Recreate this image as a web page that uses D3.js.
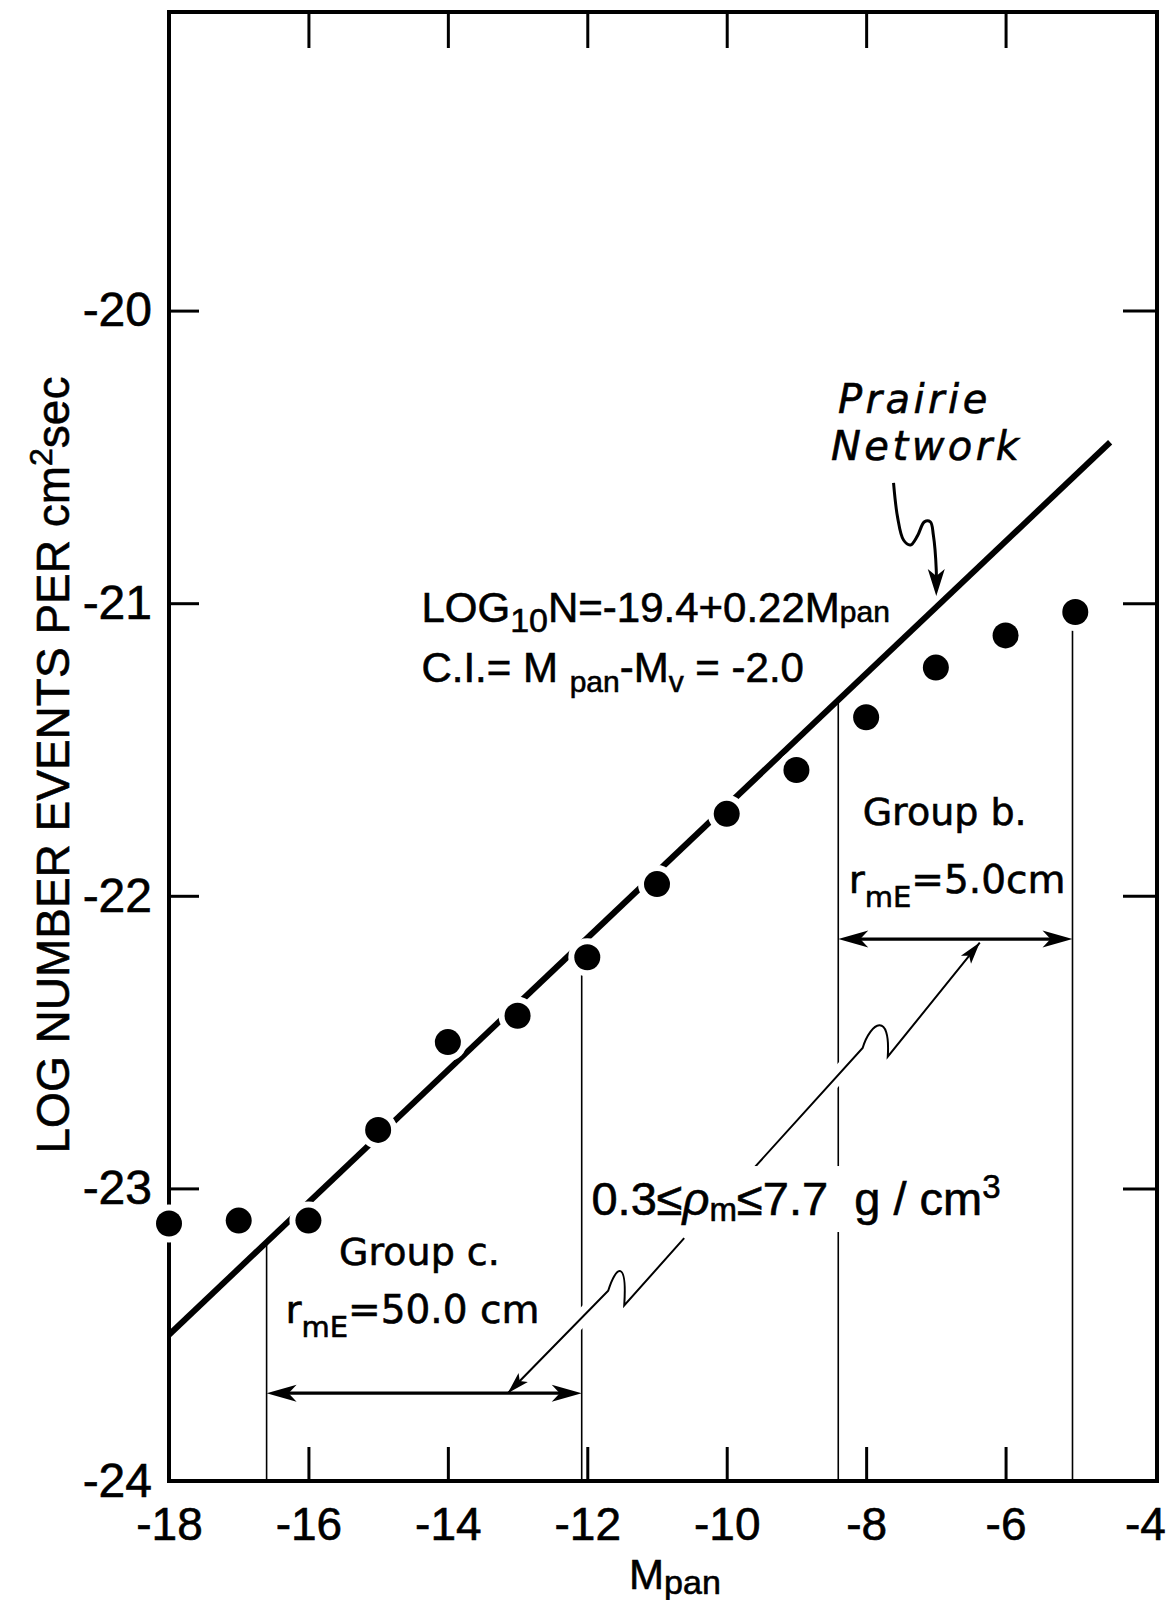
<!DOCTYPE html>
<html>
<head>
<meta charset="utf-8">
<script src="https://cdn.jsdelivr.net/npm/d3@7/dist/d3.min.js"></script>
<style>
  body { margin: 0; background: #fff; }
  text { font-family: "Liberation Sans", Arial, sans-serif; fill: #000; stroke: #000; stroke-width: 0.6px; }
</style>
</head>
<body>
<div id="chart"></div>
<script>
// values
var magnitudes = [-18, -17, -16, -15, -14, -13, -12, -11, -10, -9, -8, -7, -6, -5];
var logRates = [-23.12, -23.11, -23.11, -22.80, -22.50, -22.41, -22.21, -21.96, -21.72, -21.57, -21.39, -21.22, -21.11, -21.03];

// prairie network line (end points)
var fitX = [-18, -4.50];
var fitY = [-23.50, -20.45];

var xTicks = [-18, -16, -14, -12, -10, -8, -6, -4];
var yTicks = [-24, -23, -22, -21, -20];

// group limits and the height of their double arrows
var groupNames = ["c", "b"];
var groupFrom = [-16.6, -8.4];
var groupTo = [-12.08, -5.04];
var groupArrowAt = [-23.70, -22.148];

// leader lines for the density label: start, bend, dip, end
var leaderB = [[-9.76, -22.97], [-8.05, -22.52], [-7.69, -22.55], [-6.37, -22.16]];
var leaderC = [[-13.14, -23.70], [-11.70, -23.35], [-11.47, -23.40], [-10.61, -23.17]];
// wavy pointer under "Prairie Network"
var prairieLeader = [[-7.607, -20.589], [-7.550, -20.705], [-7.464, -20.784], [-7.364, -20.801],
  [-7.264, -20.770], [-7.165, -20.722], [-7.079, -20.722], [-7.036, -20.767], [-6.994, -20.887], [-6.994, -20.975]];

var W = 1173, H = 1600;
var frame = { left: 169, right: 1157, top: 12, bottom: 1481 };

var x = d3.scaleLinear().domain([-18, -4]).range([169, 1145]);
var y = d3.scaleLinear().domain([-24, -19]).range([1481, 18]);
var fitAt = d3.scaleLinear().domain(fitX).range(fitY);

var svg = d3.select("#chart").append("svg")
  .attr("width", W)
  .attr("height", H);

svg.append("rect").attr("width", W).attr("height", H).attr("fill", "#fff");

// ---- axes: tick marks point inwards, corners carry no tick
var innerX = xTicks.filter(function (v) { return v > -18 && v < -4; });
var innerY = yTicks.filter(function (v) { return v > -24; });

function styleTicks(g, w) {
  g.select(".domain").remove();
  g.selectAll("line").attr("stroke", "#000").attr("stroke-width", w);
}

svg.append("g").attr("transform", "translate(0," + frame.bottom + ")")
  .call(d3.axisBottom(x).tickValues(innerX).tickSizeInner(-34).tickSizeOuter(0).tickFormat(""))
  .call(styleTicks, 3);
svg.append("g").attr("transform", "translate(0," + frame.top + ")")
  .call(d3.axisTop(x).tickValues(innerX).tickSizeInner(-36).tickSizeOuter(0).tickFormat(""))
  .call(styleTicks, 3);
svg.append("g").attr("transform", "translate(" + frame.left + ",0)")
  .call(d3.axisLeft(y).tickValues(innerY).tickSizeInner(-30).tickSizeOuter(0).tickFormat(""))
  .call(styleTicks, 3);
svg.append("g").attr("transform", "translate(" + frame.right + ",0)")
  .call(d3.axisRight(y).tickValues(innerY).tickSizeInner(-34).tickSizeOuter(0).tickFormat(""))
  .call(styleTicks, 3);

// tick labels
var xLab = svg.append("g").attr("transform", "translate(0," + frame.bottom + ")")
  .call(d3.axisBottom(x).tickValues(xTicks).tickSize(0).tickPadding(26)
    .tickFormat(function (d) { return "-" + Math.abs(d); }));
xLab.select(".domain").remove();
xLab.selectAll("text").attr("font-size", 46).style("font-family", "'Liberation Sans', Arial, sans-serif");

var yLab = svg.append("g").attr("transform", "translate(" + frame.left + ",0)")
  .call(d3.axisLeft(y).tickValues(yTicks).tickSize(0).tickPadding(17)
    .tickFormat(function (d) { return "-" + Math.abs(d); }));
yLab.select(".domain").remove();
yLab.selectAll("text").attr("font-size", 48).style("font-family", "'Liberation Sans', Arial, sans-serif");

// frame
svg.append("rect")
  .attr("x", frame.left).attr("y", frame.top)
  .attr("width", frame.right - frame.left).attr("height", frame.bottom - frame.top)
  .attr("fill", "none").attr("stroke", "#000").attr("stroke-width", 4);

// axis titles
var xt = svg.append("text").attr("x", x(-11.40)).attr("y", 1589).attr("font-size", 42);
xt.append("tspan").text("M");
xt.append("tspan").attr("font-size", 34).attr("dy", 5).text("pan");

var yt = svg.append("text")
  .attr("transform", "translate(69,765) rotate(-90)")
  .attr("text-anchor", "middle")
  .attr("font-size", 46);
yt.append("tspan").text("LOG NUMBER EVENTS PER cm");
yt.append("tspan").attr("font-size", 32).attr("dy", -17).text("2");
yt.append("tspan").attr("dy", 17).text("sec");

// ---- group boundary verticals
var boundaryX = [groupFrom[0], groupTo[0], groupFrom[1], groupTo[1]];
var boundaryTop = [fitAt(groupFrom[0]), logRates[magnitudes.indexOf(-12)],
  fitAt(groupFrom[1]), logRates[magnitudes.indexOf(-5)]];

svg.selectAll(".bound").data(boundaryX).join("line")
  .attr("class", "bound")
  .attr("x1", function (d) { return x(d); })
  .attr("x2", function (d) { return x(d); })
  .attr("y1", function (d, i) { return y(boundaryTop[i]); })
  .attr("y2", frame.bottom)
  .attr("stroke", "#000").attr("stroke-width", 1.6);

// ---- fitted prairie network line
var fitLine = d3.line().x(function (d) { return x(d[0]); }).y(function (d) { return y(d[1]); });
svg.append("path")
  .datum(fitX.map(function (v, i) { return [v, fitY[i]]; }))
  .attr("d", fitLine)
  .attr("fill", "none").attr("stroke", "#000").attr("stroke-width", 6);

// arrow head: tip at (tx,ty), pointing along (dx,dy)
function arrowHead(g, tx, ty, dx, dy, len, half, notch) {
  var n = Math.sqrt(dx * dx + dy * dy); dx /= n; dy /= n;
  var px = -dy, py = dx;
  var p = d3.path();
  p.moveTo(tx, ty);
  p.lineTo(tx - dx * len + px * half, ty - dy * len + py * half);
  p.lineTo(tx - dx * notch, ty - dy * notch);
  p.lineTo(tx - dx * len - px * half, ty - dy * len - py * half);
  p.closePath();
  g.append("path").attr("d", p.toString()).attr("fill", "#000");
}

// lightning-style leader with a small hook
function boltPath(pts) {
  var p = pts.map(function (d) { return [x(d[0]), y(d[1])]; });
  var path = d3.path();
  path.moveTo(p[0][0], p[0][1]);
  path.lineTo(p[1][0], p[1][1]);
  path.bezierCurveTo(p[1][0] + 8, p[1][1] - 26, p[2][0] + 3, p[2][1] - 46, p[2][0], p[2][1]);
  path.lineTo(p[3][0], p[3][1]);
  return path.toString();
}

var leaders = svg.append("g");
[leaderB, leaderC].forEach(function (pts) {
  leaders.append("path").attr("d", boltPath(pts))
    .attr("fill", "none").attr("stroke", "#fff").attr("stroke-width", 16);
});
[leaderB, leaderC].forEach(function (pts) {
  leaders.append("path").attr("d", boltPath(pts))
    .attr("fill", "none").attr("stroke", "#000").attr("stroke-width", 2);
});
// arrow heads: B points to its end, C to its start
arrowHead(leaders, x(leaderB[3][0]), y(leaderB[3][1]),
  x(leaderB[3][0]) - x(leaderB[2][0]), y(leaderB[3][1]) - y(leaderB[2][1]), 22, 6.5, 17);
arrowHead(leaders, x(leaderC[0][0]), y(leaderC[0][1]),
  x(leaderC[0][0]) - x(leaderC[1][0]), y(leaderC[0][1]) - y(leaderC[1][1]), 22, 6.5, 17);

// prairie pointer
var pl = prairieLeader.map(function (d) { return [x(d[0]), y(d[1])]; });
var plTip = pl[pl.length - 1];
svg.append("path")
  .attr("d", d3.line().curve(d3.curveCatmullRom.alpha(0.5))(pl.slice(0, pl.length - 1).concat([[plTip[0], plTip[1] - 14]])))
  .attr("fill", "none").attr("stroke", "#000").attr("stroke-width", 3);
arrowHead(svg, plTip[0], plTip[1],
  plTip[0] - pl[pl.length - 2][0], plTip[1] - pl[pl.length - 2][1], 27, 8.5, 20);

// ---- group double arrows
groupNames.forEach(function (name, i) {
  var g = svg.append("g").attr("class", "group-" + name);
  var x1 = x(groupFrom[i]), x2 = x(groupTo[i]), yy = y(groupArrowAt[i]);
  g.append("line").attr("x1", x1 + 10).attr("x2", x2 - 10).attr("y1", yy).attr("y2", yy)
    .attr("stroke", "#000").attr("stroke-width", 3.2);
  arrowHead(g, x1, yy, -1, 0, 30, 8.5, 22);
  arrowHead(g, x2, yy, 1, 0, 30, 8.5, 22);
});

// ---- data points, white rim cuts the line where they sit on it
svg.selectAll(".dot").data(magnitudes).join("circle")
  .attr("class", "dot")
  .attr("cx", function (d) { return x(d); })
  .attr("cy", function (d, i) { return y(logRates[i]); })
  .attr("r", 13)
  .attr("fill", "#000")
  .attr("stroke", "#fff").attr("stroke-width", 12)
  .style("paint-order", "stroke");

// ---- annotations
var dv = "'DejaVu Sans', sans-serif";

svg.append("text").attr("x", x(-8.405)).attr("y", y(-20.35))
  .attr("font-size", 40).attr("font-style", "italic").attr("letter-spacing", 3.5)
  .style("font-family", dv).text("Prairie");
svg.append("text").attr("x", x(-8.505)).attr("y", y(-20.51))
  .attr("font-size", 40).attr("font-style", "italic").attr("letter-spacing", 3.5)
  .style("font-family", dv).text("Network");

var f1 = svg.append("text").attr("x", x(-14.379)).attr("y", y(-21.064)).attr("font-size", 42);
f1.append("tspan").text("LOG");
f1.append("tspan").attr("font-size", 34).attr("dy", 10).text("10");
f1.append("tspan").attr("dy", -10).text("N=-19.4+0.22M");
f1.append("tspan").attr("font-size", 30).text("pan");

var f2 = svg.append("text").attr("x", x(-14.379)).attr("y", y(-21.269)).attr("font-size", 42)
  .style("white-space", "pre");
f2.append("tspan").text("C.I.= M ");
f2.append("tspan").attr("font-size", 30).attr("dy", 10).text("pan");
f2.append("tspan").attr("dy", -10).text("-M");
f2.append("tspan").attr("font-size", 30).attr("dy", 10).text("v");
f2.append("tspan").attr("dy", -10).text(" = -2.0");

svg.append("text").attr("x", x(-8.05)).attr("y", y(-21.758)).attr("font-size", 38)
  .style("font-family", dv).text("Group b.");
var rb = svg.append("text").attr("x", x(-8.25)).attr("y", y(-21.99)).attr("font-size", 39)
  .style("font-family", dv);
rb.append("tspan").text("r");
rb.append("tspan").attr("font-size", 29).attr("dy", 14).text("mE");
rb.append("tspan").attr("dy", -14).text("=5.0cm");

svg.append("text").attr("x", x(-15.56)).attr("y", y(-23.262)).attr("font-size", 38)
  .style("font-family", dv).text("Group c.");
var rc = svg.append("text").attr("x", x(-16.33)).attr("y", y(-23.46)).attr("font-size", 39)
  .style("font-family", dv).style("white-space", "pre");
rc.append("tspan").text("r");
rc.append("tspan").attr("font-size", 29).attr("dy", 14).text("mE");
rc.append("tspan").attr("dy", -14).text("=50.0 cm");

var rhoG = svg.append("g");
var rho = rhoG.append("text").attr("x", x(-11.94)).attr("y", y(-23.091)).attr("font-size", 47)
  .style("white-space", "pre");
rho.append("tspan").text("0.3≤");
rho.append("tspan").attr("font-style", "italic").text("ρ");
rho.append("tspan").attr("font-size", 33).attr("dy", 6).text("m");
rho.append("tspan").attr("dy", -6).text("≤7.7  g / cm");
rho.append("tspan").attr("font-size", 33).attr("dy", -17).text("3");
var bb = rho.node().getBBox();
rhoG.insert("rect", "text")
  .attr("x", bb.x - 6).attr("y", bb.y - 2)
  .attr("width", bb.width + 12).attr("height", bb.height + 6)
  .attr("fill", "#fff").attr("stroke", "none");
</script>
</body>
</html>
